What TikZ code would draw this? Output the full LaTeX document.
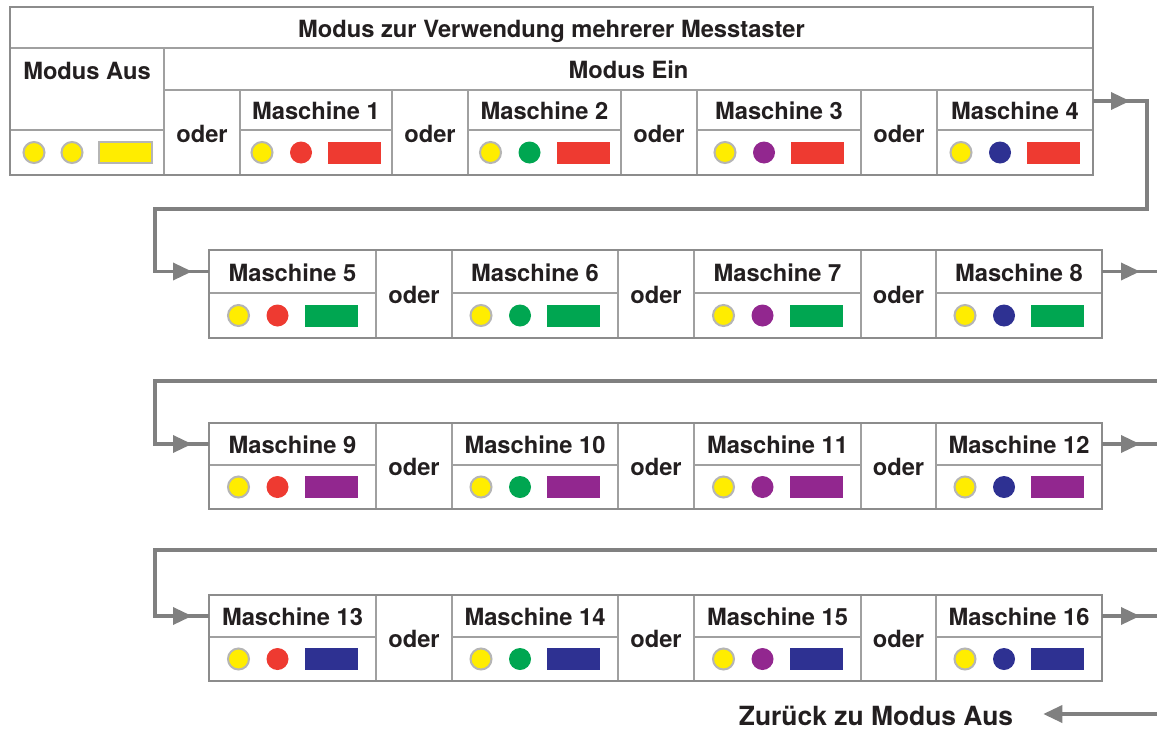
\documentclass[tikz,border=0pt]{standalone}
\usepackage{fontspec}
\setmainfont{TeX Gyre Heros}
\usetikzlibrary{arrows.meta}
\definecolor{cYel}{HTML}{FFED00}
\definecolor{cRed}{HTML}{EE3A31}
\definecolor{cGrn}{HTML}{00A651}
\definecolor{cPur}{HTML}{92278F}
\definecolor{cBlu}{HTML}{2E3192}
\definecolor{cLine}{HTML}{A0A0A0}
\definecolor{cOut}{HTML}{8C8C8C}
\definecolor{cConn}{HTML}{808080}
\definecolor{cRing}{HTML}{B5B5B5}
\definecolor{cTxt}{HTML}{231F20}
\tikzset{
  cellbox/.style={draw=cLine, line width=1.5pt, inner sep=0pt, outer sep=0pt,
    text=cTxt, font=\fontsize{23.7}{28}\selectfont\bfseries, anchor=north west,
    text height=19pt, text depth=0pt},
  txt/.style={inner sep=0pt, text=cTxt, font=\fontsize{23.7}{28}\selectfont\bfseries,
    text height=19pt, text depth=0pt},
  outer/.style={draw=cOut, line width=2.5pt},
  conn/.style={draw=cConn, line width=3.5pt},
  tip/.style={conn, -{Triangle[length=19pt,width=17pt]}},
  ring/.style={fill=cYel, draw=cRing, line width=2pt},
}
% cell: name, x0, y0, x1, y1, text
\newcommand{\mycell}[6]{%
  \node[cellbox, minimum width={(#4-#2)*1pt}, minimum height={(#5-#3)*1pt}] (#1) at (#2,#3) {#6};}
% symbols: cx, cy, circle colour, rect colour
\newcommand{\mysyms}[4]{%
  \draw[ring] ({#1-54},{#2}) circle (10.5);
  \fill[#3] ({#1-15},{#2}) circle (11);
  \fill[#4] ({#1+12},{#2-11}) rectangle ({#1+65},{#2+11});}
% machine: name, x0, x1, ytop, ymid, ybot, label, circle colour, rect colour
\newcommand{\mach}[9]{%
  \mycell{#1}{#2}{#4}{#3}{#5}{#7}
  \mycell{#1s}{#2}{#5}{#3}{#6}{}
  \mysyms{(#2+#3)/2}{(#5+#6)/2}{#8}{#9}}
\newcommand{\oder}[5]{%
  \mycell{#1}{#2}{#4}{#3}{#5}{oder}}
\begin{document}
\begin{tikzpicture}[x=1pt,y=-1pt]
\clip (0,0) rectangle (1157,731);
\fill[white] (0,0) rectangle (1157,731);

% ---- row 1
\mycell{title}{10}{7}{1093}{48}{Modus zur Verwendung mehrerer Messtaster}
\mycell{aus}{10}{48}{164}{130}{}
\node[txt] (austxt) at (87,70) {Modus Aus};
\mycell{ein}{164}{48}{1093}{90}{Modus Ein}
\mycell{auss}{10}{130}{164}{175}{}
\draw[ring] (34,152.5) circle (10.5);
\draw[ring] (72,152.5) circle (10.5);
\draw[ring] (99,142) rectangle (152,163);
\oder{o1}{164}{240}{90}{175}
\mach{m1}{240}{392}{90}{130}{175}{Maschine 1}{cRed}{cRed}
\oder{o2}{392}{468}{90}{175}
\mach{m2}{468}{621}{90}{130}{175}{Maschine 2}{cGrn}{cRed}
\oder{o3}{621}{697}{90}{175}
\mach{m3}{697}{861}{90}{130}{175}{Maschine 3}{cPur}{cRed}
\oder{o4}{861}{937}{90}{175}
\mach{m4}{937}{1093}{90}{130}{175}{Maschine 4}{cBlu}{cRed}
\draw[outer] (10,7) rectangle (1093,175);

% ---- row 2
\mach{m5}{209}{376}{250}{293}{338}{Maschine 5}{cRed}{cGrn}
\oder{o5}{376}{452}{250}{338}
\mach{m6}{452}{618}{250}{293}{338}{Maschine 6}{cGrn}{cGrn}
\oder{o6}{618}{694}{250}{338}
\mach{m7}{694}{861}{250}{293}{338}{Maschine 7}{cPur}{cGrn}
\oder{o7}{861}{936}{250}{338}
\mach{m8}{936}{1102}{250}{293}{338}{Maschine 8}{cBlu}{cGrn}
\draw[outer] (209,250) rectangle (1102,338);

% ---- row 3
\mach{m9}{209}{376}{423}{465}{509}{Maschine 9}{cRed}{cPur}
\oder{o9}{376}{452}{423}{509}
\mach{m10}{452}{618}{423}{465}{509}{Maschine 10}{cGrn}{cPur}
\oder{o10}{618}{694}{423}{509}
\mach{m11}{694}{861}{423}{465}{509}{Maschine 11}{cPur}{cPur}
\oder{o11}{861}{936}{423}{509}
\mach{m12}{936}{1102}{423}{465}{509}{Maschine 12}{cBlu}{cPur}
\draw[outer] (209,423) rectangle (1102,509);

% ---- row 4
\mach{m13}{209}{376}{595}{637}{681}{Maschine 13}{cRed}{cBlu}
\oder{o13}{376}{452}{595}{681}
\mach{m14}{452}{618}{595}{637}{681}{Maschine 14}{cGrn}{cBlu}
\oder{o14}{618}{694}{595}{681}
\mach{m15}{694}{861}{595}{637}{681}{Maschine 15}{cPur}{cBlu}
\oder{o15}{861}{936}{595}{681}
\mach{m16}{936}{1102}{595}{637}{681}{Maschine 16}{cBlu}{cBlu}
\draw[outer] (209,595) rectangle (1102,681);

\node[txt, font=\fontsize{26.4}{30}\selectfont\bfseries, text height=23pt, text depth=0pt]
  (back) at (876,714) {Zurück zu Modus Aus};

% ---- connectors
\coordinate (s1) at ([yshift=-11pt]m4.north east);
\coordinate (k1) at (1147,209);
\coordinate (k2) at (155,209);
\draw[conn] (s1) -| (k1) -- (k2) |- (m5.west);
\draw[tip] (s1) -- ++(37,0);
\draw[tip] (k2 |- m5.west) -- ++(37,0);

\coordinate (e2) at (1162,0);
\draw[conn] (m8.east) -- (e2 |- m8.east);
\draw[tip] (m8.east) -- ++(38,0);
\coordinate (k3) at (1162,381);
\coordinate (k4) at (155,381);
\draw[conn] (k3) -- (k4) |- (m9.west);
\draw[tip] (k4 |- m9.west) -- ++(37,0);

\draw[conn] (m12.east) -- (e2 |- m12.east);
\draw[tip] (m12.east) -- ++(38,0);
\coordinate (k5) at (1162,550);
\coordinate (k6) at (155,550);
\draw[conn] (k5) -- (k6) |- (m13.west);
\draw[tip] (k6 |- m13.west) -- ++(37,0);

\draw[conn] (m16.east) -- (e2 |- m16.east);
\draw[tip] (m16.east) -- ++(38,0);
\coordinate (k7) at (1162,714);
\draw[tip] (k7) -- ([xshift=30pt,yshift=0pt]back.east |- k7);
\end{tikzpicture}
\end{document}
